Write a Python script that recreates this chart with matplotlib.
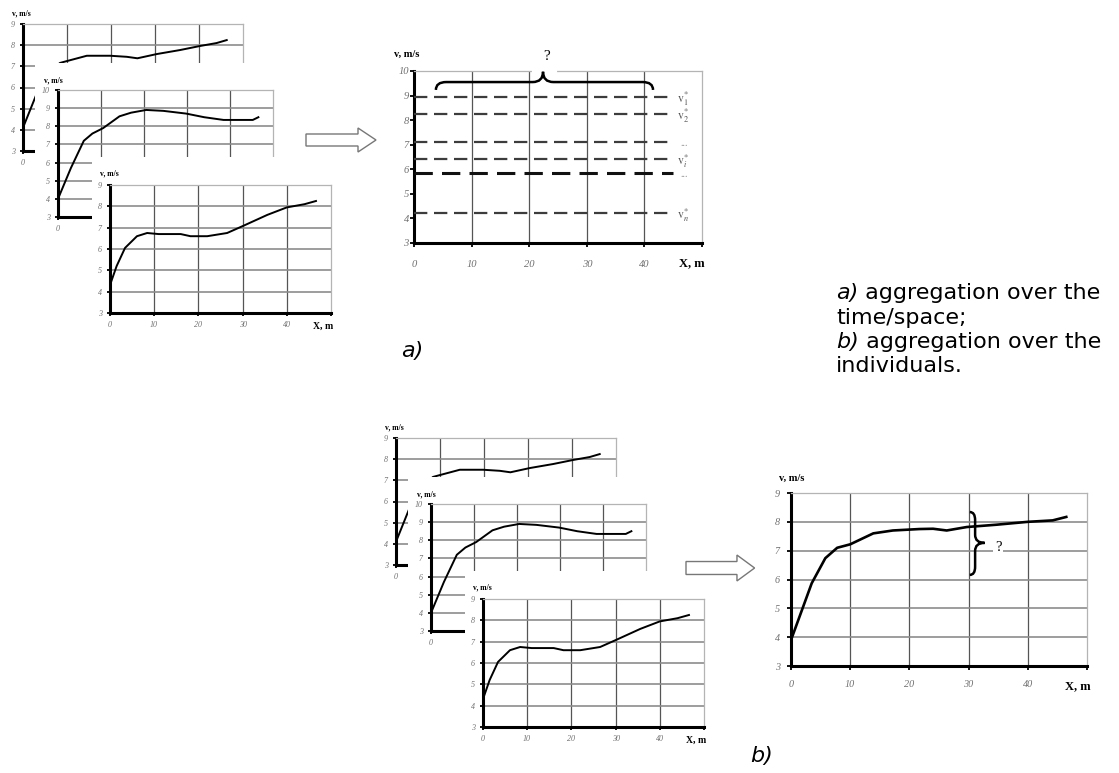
import matplotlib
matplotlib.use('Agg')
import matplotlib.pyplot as plt
from matplotlib.path import Path
from matplotlib.patches import PathPatch, Polygon

# ---------------- data ----------------
curve1_x = [0, 3, 5.5, 8.4, 10, 14.5, 19.8, 23.6, 26, 30.4, 35.7, 40.2, 44, 46.3]
curve1_v = [4.1, 5.65, 6.6, 7.16, 7.25, 7.5, 7.5, 7.45, 7.38, 7.58, 7.77, 7.96, 8.1, 8.24]
curve2_x = [0, 3, 6, 8, 10.5, 14.3, 17, 20.5, 24.5, 29.8, 34, 38.5, 45.3, 46.6]
curve2_v = [4.0, 5.7, 7.2, 7.6, 7.9, 8.55, 8.75, 8.9, 8.85, 8.7, 8.5, 8.35, 8.35, 8.5]
curve3_x = [0, 1.5, 3.4, 6.1, 8.4, 11, 16, 18.2, 22, 26.5, 30.3, 35.6, 40, 44, 46.6]
curve3_v = [4.31, 5.2, 6.05, 6.6, 6.75, 6.7, 6.7, 6.6, 6.6, 6.75, 7.1, 7.6, 7.95, 8.1, 8.25]
mean_x = [0, 3.5, 5.8, 7.8, 10, 13.9, 17.2, 21.7, 24, 26.3, 29.7, 34.7, 40, 44.2, 46.5]
mean_v = [3.9, 5.87, 6.74, 7.1, 7.22, 7.6, 7.7, 7.75, 7.76, 7.7, 7.82, 7.9, 8.0, 8.05, 8.17]
levels_v = [8.94, 8.24, 7.1, 6.42, 5.85, 4.22]
level_labels = [r'$\mathrm{v}^{*}_{1}$', r'$\mathrm{v}^{*}_{2}$', '...',
                r'$\mathrm{v}^{*}_{i}$', '...', r'$\mathrm{v}^{*}_{n}$']
x_ticks = [0, 10, 20, 30, 40, 50]
x_tick_labels = ['0', '10', '20', '30', '40', '']
x_tick_labels_hidden = ['0', '', '', '', '', '']
y_label = 'v, m/s'
x_label = 'X, m'
caption_lines = [('a)', ' aggregation over the'), ('', 'time/space;'),
                 ('b)', ' aggregation over the'), ('', 'individuals.')]

# ---------------- setup ----------------
plt.rcParams['mathtext.fontset'] = 'stix'
W, H = 1119, 773
fig = plt.figure(figsize=(W / 100, H / 100), dpi=100)
fig.patch.set_facecolor('white')

SERIF = 'Liberation Serif'
GRID_H = '#8c8c8c'
GRID_V = '#555555'
FRAME = '#b4b4b4'
TICKC = '#707070'


def px_axes(l, t, r, b):
    return fig.add_axes([l / W, 1 - b / H, (r - l) / W, (b - t) / H])


def white_box(l, t, r, b):
    a = px_axes(l, t, r, b)
    a.set_facecolor('white')
    a.set_xticks([])
    a.set_yticks([])
    for s in a.spines.values():
        s.set_visible(False)
    return a


def style_chart(ax, ymax, hgrid, tsize, lsize, tlen, ypad, xpad, vlab, xlab,
                xlabels=x_tick_labels):
    ax.set_xlim(0, 50)
    ax.set_ylim(3, ymax)
    ax.set_xticks(x_ticks)
    ax.set_xticklabels(xlabels, fontfamily=SERIF, fontstyle='italic',
                       fontsize=tsize, color=TICKC)
    yt = list(range(3, ymax + 1))
    ax.set_yticks(yt)
    ax.set_yticklabels([str(v) for v in yt], fontfamily=SERIF, fontstyle='italic',
                       fontsize=tsize, color=TICKC)
    ax.tick_params(direction='out', length=tlen, width=1.3, color='black')
    ax.tick_params(axis='x', pad=xpad)
    ax.tick_params(axis='y', pad=ypad)
    for s in ('left', 'bottom'):
        ax.spines[s].set_linewidth(2.2)
        ax.spines[s].set_color('black')
    for s in ('top', 'right'):
        ax.spines[s].set_linewidth(0.9)
        ax.spines[s].set_color(FRAME)
    for xv in x_ticks[1:-1]:
        ax.axvline(xv, color=GRID_V, lw=0.9, zorder=1)
    if hgrid:
        for yv in yt[1:-1]:
            ax.axhline(yv, color=GRID_H, lw=1.2, zorder=1)
    ax.annotate(y_label, xy=(0, 1), xycoords='axes fraction', xytext=vlab,
                textcoords='offset pixels', ha='center', va='center',
                fontfamily=SERIF, fontweight='bold', fontsize=lsize)
    if xlab is not None:
        ax.annotate(x_label, xy=(1, 0), xycoords='axes fraction', xytext=xlab,
                    textcoords='offset pixels', ha='center', va='center',
                    fontfamily=SERIF, fontweight='bold', fontsize=lsize + 1.5)


def stack(dx, dy):
    # back chart (mostly hidden)
    white_box(0 + dx, 0 + dy, 255 + dx, 175 + dy)
    a1 = px_axes(23 + dx, 24 + dy, 243 + dx, 151 + dy)
    style_chart(a1, 9, True, 5.8, 5.5, 2.5, 3.5, 3.5, (-2, 11), None,
                x_tick_labels_hidden)
    a1.plot(curve1_x, curve1_v, color='black', lw=1.4, zorder=3)
    # middle chart (partly hidden)
    white_box(35 + dx, 63 + dy, 290 + dx, 240 + dy)
    a2 = px_axes(58 + dx, 90 + dy, 273 + dx, 217 + dy)
    style_chart(a2, 10, True, 5.8, 5.5, 2.5, 3.5, 3.5, (-5, 10), None,
                x_tick_labels_hidden)
    a2.plot(curve2_x, curve2_v, color='black', lw=1.4, zorder=3)
    # front chart
    white_box(92 + dx, 157 + dy, 345 + dx, 338 + dy)
    a3 = px_axes(110 + dx, 185 + dy, 331 + dx, 313 + dy)
    style_chart(a3, 9, True, 5.8, 5.5, 2.5, 3.5, 3.5, (-1, 12), (-8, -13))
    a3.plot(curve3_x, curve3_v, color='black', lw=1.4, zorder=3)


def hbrace(ax, x0, x1, xc, y_end, y_bar, y_tip, r):
    verts = [(x0, y_end), (x0, y_bar), (x0 + r, y_bar), (xc - r, y_bar),
             (xc, y_bar), (xc, y_tip), (xc, y_bar), (xc + r, y_bar),
             (x1 - r, y_bar), (x1, y_bar), (x1, y_end)]
    codes = [Path.MOVETO, Path.CURVE3, Path.CURVE3, Path.LINETO, Path.CURVE3,
             Path.CURVE3, Path.CURVE3, Path.CURVE3, Path.LINETO, Path.CURVE3, Path.CURVE3]
    ax.add_patch(PathPatch(Path(verts, codes), fill=False, lw=1.8,
                           color='black', clip_on=False, zorder=6))


def vbrace(ax, y0, y1, yc, x_end, x_bar, x_tip, r):
    verts = [(x_end, y0), (x_bar, y0), (x_bar, y0 - r), (x_bar, yc + r),
             (x_bar, yc), (x_tip, yc), (x_bar, yc), (x_bar, yc - r),
             (x_bar, y1 + r), (x_bar, y1), (x_end, y1)]
    codes = [Path.MOVETO, Path.CURVE3, Path.CURVE3, Path.LINETO, Path.CURVE3,
             Path.CURVE3, Path.CURVE3, Path.CURVE3, Path.LINETO, Path.CURVE3, Path.CURVE3]
    ax.add_patch(PathPatch(Path(verts, codes), fill=False, lw=1.8,
                           color='black', clip_on=False, zorder=6))


# ---------------- group a ----------------
stack(0, 0)

axA = px_axes(414, 71, 702, 243)
style_chart(axA, 10, False, 7.6, 7.5, 3, 0.8, 9, (-7, 17), (-10, -20))
for lv, lab in zip(levels_v, level_labels):
    heavy = lab == '...' and lv < 6
    axA.plot([0, 45], [lv, lv], color='#111111' if heavy else '#3c3c3c',
             lw=2.2 if heavy else 1.6, linestyle=(0, (6.0, 3.0)), zorder=3)
    if lab == '...':
        axA.text(46.3, lv - 0.05, lab, ha='left', va='center', fontsize=7,
                 color='#888888', fontfamily=SERIF, clip_on=False)
    else:
        axA.text(45.7, lv - 0.08, lab, ha='left', va='center', fontsize=8.5,
                 color='#555555', clip_on=False)
axA.plot([20.8, 24.4], [10, 10], color='white', lw=3, clip_on=False, zorder=5)
hbrace(axA, 3.8, 41.5, 22.4, 9.23, 9.55, 9.97, 1.8)
axA.text(23.1, 10.57, '?', ha='center', va='center', fontsize=11,
         fontfamily=SERIF, clip_on=False)

# ---------------- group b ----------------
stack(373, 414)

axB = px_axes(791, 493, 1087, 666)
style_chart(axB, 9, True, 7.3, 7.5, 3, 5, 7, (1, 15), (-9, -20))
axB.plot(mean_x, mean_v, color='black', lw=1.9, zorder=4)
vbrace(axB, 8.34, 6.16, 7.27, 30.2, 31.1, 32.7, 0.28)
axB.text(35.0, 7.12, '?', ha='center', va='center', fontsize=10.5,
         fontfamily=SERIF, zorder=6,
         bbox=dict(facecolor='white', edgecolor='none', pad=1.5))

# ---------------- arrows & captions ----------------
canvas = fig.add_axes([0, 0, 1, 1])
canvas.set_xlim(0, W)
canvas.set_ylim(H, 0)
canvas.set_axis_off()
arrow_shape = [(0, -6), (52, -6), (52, -12), (70, 0), (52, 12), (52, 6), (0, 6)]
for (ox, oy, sc) in [(306, 140, 1.0), (686, 568, 0.98)]:
    pts = [(ox + px * sc, oy + py * (1.0 if sc == 1.0 else 1.08)) for px, py in arrow_shape]
    canvas.add_patch(Polygon(pts, closed=True, facecolor='white',
                             edgecolor='#777777', lw=1.0))

SANS = 'DejaVu Sans'
canvas.text(412, 351, 'a)', fontstyle='italic', fontfamily=SANS, fontsize=16,
            ha='center', va='center')
canvas.text(762, 756, 'b)', fontstyle='italic', fontfamily=SANS, fontsize=16,
            ha='center', va='center')

renderer = fig.canvas.get_renderer()
line_y = [293, 318, 342, 366]
for (ital, rest), yy in zip(caption_lines, line_y):
    x0 = 836
    if ital:
        t = canvas.text(x0, yy, ital, fontstyle='italic', fontfamily=SANS,
                        fontsize=16, ha='left', va='center')
        bb = t.get_window_extent(renderer)
        x0 = x0 + bb.width
    canvas.text(x0, yy, rest, fontfamily=SANS, fontsize=16, ha='left', va='center')

fig.savefig('out.png', dpi=100, facecolor='white')
